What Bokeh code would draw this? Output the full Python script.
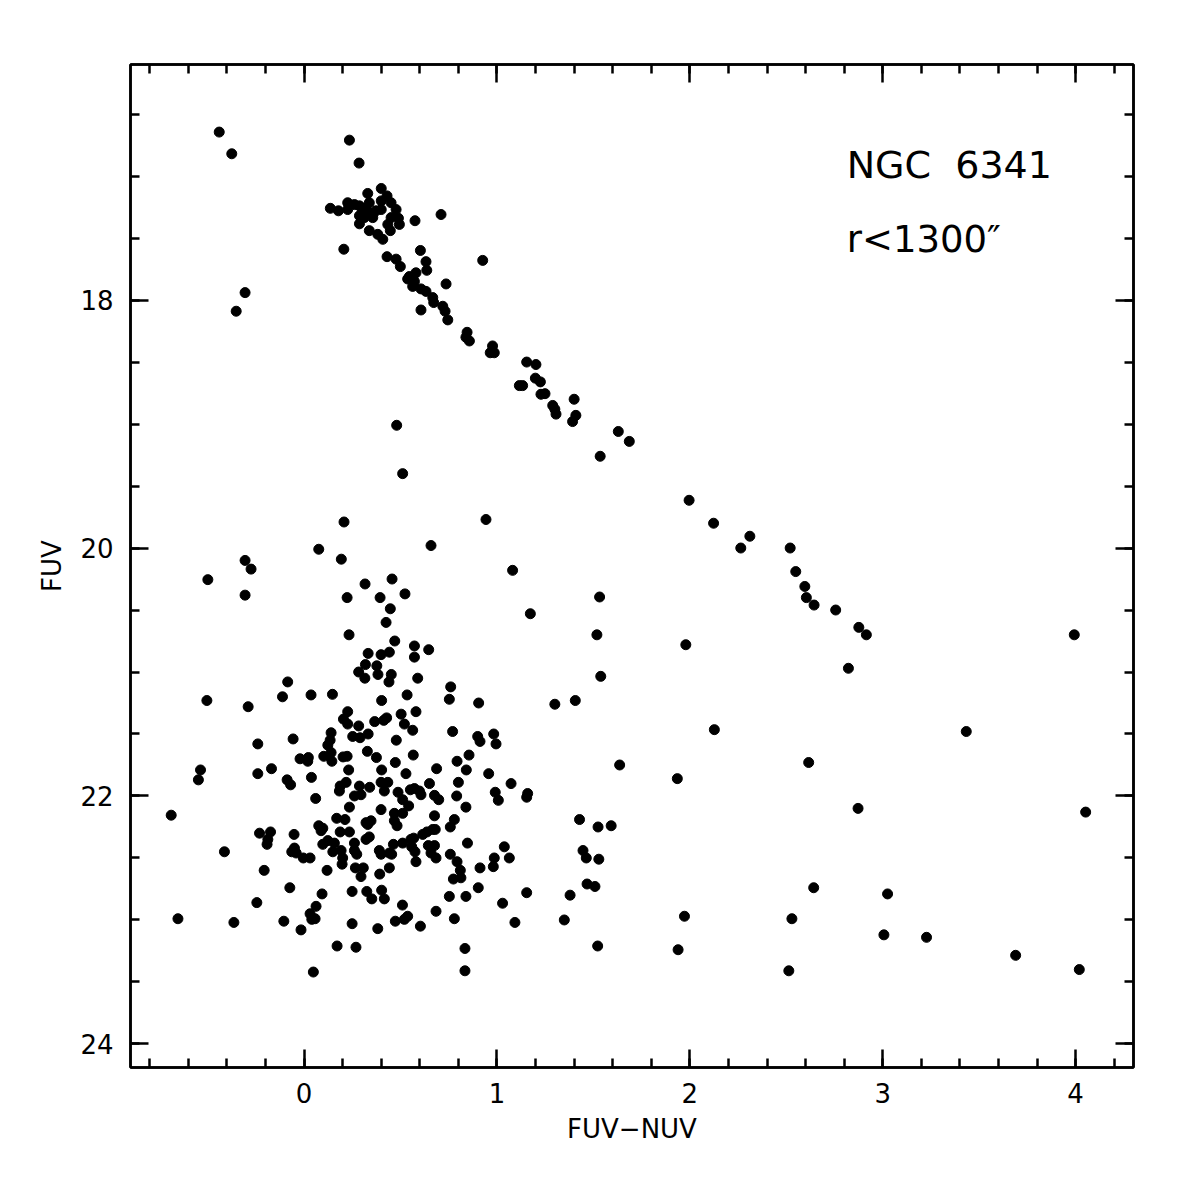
from bokeh.plotting import figure
from bokeh.models import Range1d, LinearAxis, FixedTicker, Label
from bokeh.embed import file_html
from bokeh.resources import INLINE
import numpy as np

# ---- data: FUV-NUV colour and FUV magnitude ----
hb_col = [-0.44, -0.375, -0.306, -0.352,
          0.235, 0.285, 0.40, 0.33, 0.136, 0.178, 0.226, 0.226, 0.261, 0.287, 0.304,
          0.321, 0.338, 0.347, 0.287, 0.312, 0.356, 0.40, 0.43, 0.451, 0.477, 0.40,
          0.373, 0.451, 0.489, 0.494, 0.434, 0.447, 0.287, 0.338, 0.382, 0.408, 0.575,
          0.71, 0.206]
hb_fuv = [16.645, 16.82, 17.94, 18.09,
          16.71, 16.895, 17.10, 17.14, 17.26, 17.28, 17.215, 17.27, 17.23, 17.24, 17.28,
          17.255, 17.215, 17.30, 17.32, 17.335, 17.335, 17.20, 17.16, 17.215, 17.27, 17.27,
          17.28, 17.335, 17.34, 17.39, 17.39, 17.44, 17.385, 17.44, 17.47, 17.51, 17.36,
          17.31, 17.59]

rgb_col = [0.603, 0.43, 0.477, 0.499, 0.632, 0.636, 0.926, 0.58, 0.546, 0.537, 0.572,
           0.563, 0.606, 0.632, 0.736, 0.667, 0.672, 0.719, 0.731, 0.745, 0.606, 0.845,
           0.857, 0.839, 0.977, 0.965, 0.986, 1.154, 1.202, 1.199, 1.225, 1.116, 1.133,
           1.228, 1.249, 1.289, 1.30, 1.306, 1.40, 1.409, 1.392, 1.629, 1.686, 1.535,
           1.996, 2.123, 2.311, 2.264, 2.52, 2.549, 2.596, 2.604, 2.644, 2.756, 2.876,
           2.915, 2.822]
rgb_fuv = [17.60, 17.65, 17.67, 17.73, 17.69, 17.76, 17.68, 17.78, 17.81, 17.83, 17.85,
           17.89, 17.91, 17.93, 17.87, 17.98, 18.02, 18.05, 18.09, 18.16, 18.08, 18.26,
           18.33, 18.30, 18.37, 18.425, 18.425, 18.50, 18.52, 18.63, 18.66, 18.69, 18.69,
           18.76, 18.755, 18.85, 18.88, 18.92, 18.80, 18.93, 18.98, 19.06, 19.14, 19.26,
           19.615, 19.80, 19.905, 20.00, 20.00, 20.19, 20.31, 20.40, 20.46, 20.50, 20.64,
           20.70, 20.97]

field_col = [0.48, 0.511, 0.207, 0.943, 0.658, 1.081, 0.523, 1.532, 3.993, 1.518, 1.979,
             1.538, 1.30, 1.406, 2.127, 3.433, 1.636, 2.616, 1.935, 2.872, 4.052, 1.428,
             1.524, 1.592, 1.446, 1.463, 1.528, 1.467, 1.508, 1.379, 2.642, 3.025, 1.349,
             1.972, 2.529, 3.006, 3.227, 1.522, 1.939, 3.689, 2.513, 4.019]
field_fuv = [19.01, 19.40, 19.79, 19.77, 19.98, 20.18, 20.37, 20.395, 20.70, 20.70, 20.78,
             21.035, 21.26, 21.23, 21.465, 21.48, 21.75, 21.73, 21.86, 22.10, 22.13, 22.19,
             22.25, 22.24, 22.44, 22.50, 22.51, 22.71, 22.73, 22.80, 22.74, 22.79, 23.0,
             22.97, 22.99, 23.12, 23.14, 23.21, 23.24, 23.285, 23.41, 23.40]

upper_col = [0.076, -0.306, -0.275, -0.499, -0.306, 0.193, 1.173, 0.316, 0.456, 0.223,
             0.394, 0.447, 0.425, 0.233, 0.47, 0.572, 0.646, 0.572, 0.332, 0.399, 0.442,
             0.318, 0.377, 0.283, 0.315, 0.383, 0.452, 0.44, 0.589, -0.085, -0.112, 0.036,
             0.147, -0.504, -0.29, 0.402, 0.534, 0.76, 0.753, 0.905, 0.226, 0.204, 0.226,
             0.283, 0.366, 0.413, 0.428, 0.503, 0.58, 0.52, 0.563, 0.14, 0.135, 0.123,
             0.252, 0.29, 0.332, 0.478, 0.77, 0.90, 0.912, 0.983, 0.995, -0.24, -0.057,
             0.14, 0.102, 0.144, -0.021, 0.022, 0.019, 0.202, 0.223, 0.328, 0.375, 0.566,
             0.473, 0.231, 0.402, 0.687, 0.793, 0.855, 0.841, -0.537, -0.169]
upper_fuv = [20.01, 20.10, 20.17, 20.255, 20.38, 20.09, 20.53, 20.29, 20.25, 20.40,
             20.40, 20.49, 20.60, 20.70, 20.75, 20.79, 20.82, 20.88, 20.85, 20.86, 20.84,
             20.94, 20.95, 21.00, 21.05, 21.02, 21.02, 21.08, 21.05, 21.08, 21.20, 21.185,
             21.18, 21.23, 21.28, 21.23, 21.185, 21.12, 21.22, 21.25, 21.32, 21.38, 21.42,
             21.435, 21.40, 21.39, 21.37, 21.34, 21.32, 21.42, 21.47, 21.49, 21.55, 21.59,
             21.52, 21.53, 21.50, 21.55, 21.48, 21.52, 21.56, 21.50, 21.58, 21.58, 21.54,
             21.65, 21.68, 21.72, 21.70, 21.69, 21.72, 21.685, 21.68, 21.64, 21.69, 21.67,
             21.73, 21.79, 21.79, 21.78, 21.72, 21.67, 21.79, 21.79, 21.78]

lower_col = [-0.548, -0.24, -0.088, -0.07, 0.038, 0.528, 0.957, -0.689, -0.413, -0.654,
             -0.364, -0.207, -0.231, -0.174, -0.188, -0.192, -0.245, -0.074, -0.052, -0.05,
             -0.064, -0.041, -0.004, 0.031, -0.105, -0.016, 0.06, 0.187, 0.218, 0.183,
             0.287, 0.34, 0.261, 0.295, 0.235, 0.399, 0.434, 0.416, 0.487, 0.551, 0.572,
             0.598, 0.606, 0.65, 0.511, 0.542, 0.399, 0.676, 0.698, 0.80, 0.791, 0.839,
             0.991, 1.007, 1.073, 1.159, 1.154, 0.169, 0.212, 0.076, 0.088, 0.097, 0.187,
             0.235, 0.321, 0.347, 0.33, 0.468, 0.511, 0.468, 0.482, 0.676, 0.779, 0.758,
             0.097, 0.123, 0.157, 0.149, 0.192, 0.20, 0.197, 0.261, 0.261, 0.273, 0.321,
             0.338, 0.119, 0.266, 0.307, 0.295, 0.39, 0.399, 0.442, 0.454, 0.463, 0.511,
             0.554, 0.568, 0.558, 0.575, 0.615, 0.637, 0.667, 0.68, 0.644, 0.676, 0.658,
             0.684, 0.58, 0.392, 0.442, 0.847, 0.758, 0.793, 0.81, 0.813, 0.774, 0.912,
             1.038, 0.986, 0.981, 1.064, 0.903, 0.839, 0.753, 1.154, 1.029, 1.093, 0.684,
             0.779, 0.834, 0.834, 0.093, 0.062, 0.031, 0.04, 0.057, 0.249, 0.325, 0.351,
             0.402, 0.416, 0.51, 0.537, 0.52, 0.473, 0.603, 0.249, 0.382, 0.171, 0.269,
             0.048]
lower_fuv = [21.87, 21.82, 21.87, 21.91, 21.85, 21.82, 21.82, 22.155, 22.45, 22.99,
             23.02, 22.60, 22.30, 22.29, 22.35, 22.39, 22.86, 22.74, 22.31, 22.42,
             22.45, 22.46, 22.50, 22.50, 23.01, 23.08, 22.02, 21.92, 21.89, 21.96,
             21.92, 21.93, 22.0, 21.99, 22.09, 21.89, 21.89, 21.96, 21.97, 21.95, 21.94,
             21.96, 21.99, 21.90, 22.03, 22.08, 22.11, 21.995, 22.03, 21.89, 22.00, 22.09,
             21.97, 22.035, 21.90, 21.98, 22.01, 22.18, 22.19, 22.24, 22.28, 22.26, 22.29,
             22.29, 22.215, 22.20, 22.23, 22.14, 22.14, 22.20, 22.24, 22.16, 22.19, 22.25,
             22.39, 22.36, 22.38, 22.45, 22.44, 22.50, 22.55, 22.38, 22.44, 22.47, 22.35,
             22.33, 22.60, 22.58, 22.58, 22.65, 22.44, 22.47, 22.46, 22.47, 22.39, 22.38,
             22.35, 22.34, 22.41, 22.45, 22.31, 22.29, 22.27, 22.27, 22.40, 22.40, 22.46,
             22.50, 22.53, 22.63, 22.58, 22.38, 22.47, 22.53, 22.60, 22.66, 22.67, 22.58,
             22.41, 22.50, 22.57, 22.50, 22.74, 22.81, 22.81, 22.78, 22.865, 23.02, 22.93,
             22.99, 23.23, 23.41, 22.79, 22.89, 22.95, 22.995, 22.99, 22.77, 22.77, 22.83,
             22.76, 22.83, 22.88, 22.97, 22.995, 23.01, 23.05, 23.03, 23.07, 23.21, 23.22,
             23.42]

x_major = [0, 1, 2, 3, 4]
y_major = [18, 20, 22, 24]
title_text = "NGC\u00a0\u00a06341"
radius_text = "r<1300\u2033"

# ---- figure ----
p = figure(frame_width=1003, frame_height=1003,
           x_range=Range1d(-0.9, 4.3), y_range=Range1d(24.19, 16.1),
           x_axis_type=None, y_axis_type=None,
           output_backend="svg", toolbar_location=None,
           min_border_left=130, min_border_top=64,
           min_border_right=40, min_border_bottom=100)
p.background_fill_color = "white"
p.border_fill_color = "white"
p.outline_line_color = "black"
p.outline_line_width = 2.5

x_minor = [round(v, 1) for v in np.arange(-0.8, 4.3, 0.2)]
y_minor = [round(v, 1) for v in np.arange(16.5, 24.2, 0.5)]
xt = FixedTicker(ticks=x_major, minor_ticks=x_minor)
yt = FixedTicker(ticks=y_major, minor_ticks=y_minor)

bottom = LinearAxis(ticker=xt)
left = LinearAxis(ticker=yt)
top = LinearAxis(ticker=xt)
right = LinearAxis(ticker=yt)

for ax in [bottom, left, top, right]:
    ax.major_tick_in = 18
    ax.major_tick_out = 0
    ax.minor_tick_in = 9
    ax.minor_tick_out = 0
    ax.axis_line_width = 2.5
    ax.major_tick_line_width = 2.5
    ax.minor_tick_line_width = 2.5
    ax.axis_line_color = "black"
    ax.major_tick_line_color = "black"
    ax.minor_tick_line_color = "black"
    ax.major_label_text_font = "DejaVu Sans"
    ax.major_label_text_font_size = "26px"
    ax.major_label_text_color = "black"

for ax in [top, right]:
    ax.major_label_text_font_size = "0px"
    ax.major_label_text_alpha = 0

bottom.axis_label = "FUV\u2212NUV"
bottom.major_label_standoff = 15
bottom.axis_label_standoff = 8
left.axis_label = "FUV"
left.major_label_standoff = 17
left.axis_label_standoff = 10
for ax in [bottom, left]:
    ax.axis_label_text_font = "DejaVu Sans"
    ax.axis_label_text_font_size = "26px"
    ax.axis_label_text_font_style = "normal"
    ax.axis_label_text_color = "black"

p.add_layout(bottom, "below")
p.add_layout(left, "left")
p.add_layout(top, "above")
p.add_layout(right, "right")

all_col = hb_col + rgb_col + field_col + upper_col + lower_col
all_fuv = hb_fuv + rgb_fuv + field_fuv + upper_fuv + lower_fuv
p.scatter(all_col, all_fuv, marker="circle", size=10,
          fill_color="black", line_color="black")

p.add_layout(Label(x=2.813, y=16.91, text=title_text, text_font="DejaVu Sans",
                   text_font_size="38px", text_baseline="alphabetic", text_color="black"))
p.add_layout(Label(x=2.813, y=17.508, text=radius_text, text_font="DejaVu Sans",
                   text_font_size="37px", text_baseline="alphabetic", text_color="black"))

open("out.html", "w").write(file_html(p, INLINE))
